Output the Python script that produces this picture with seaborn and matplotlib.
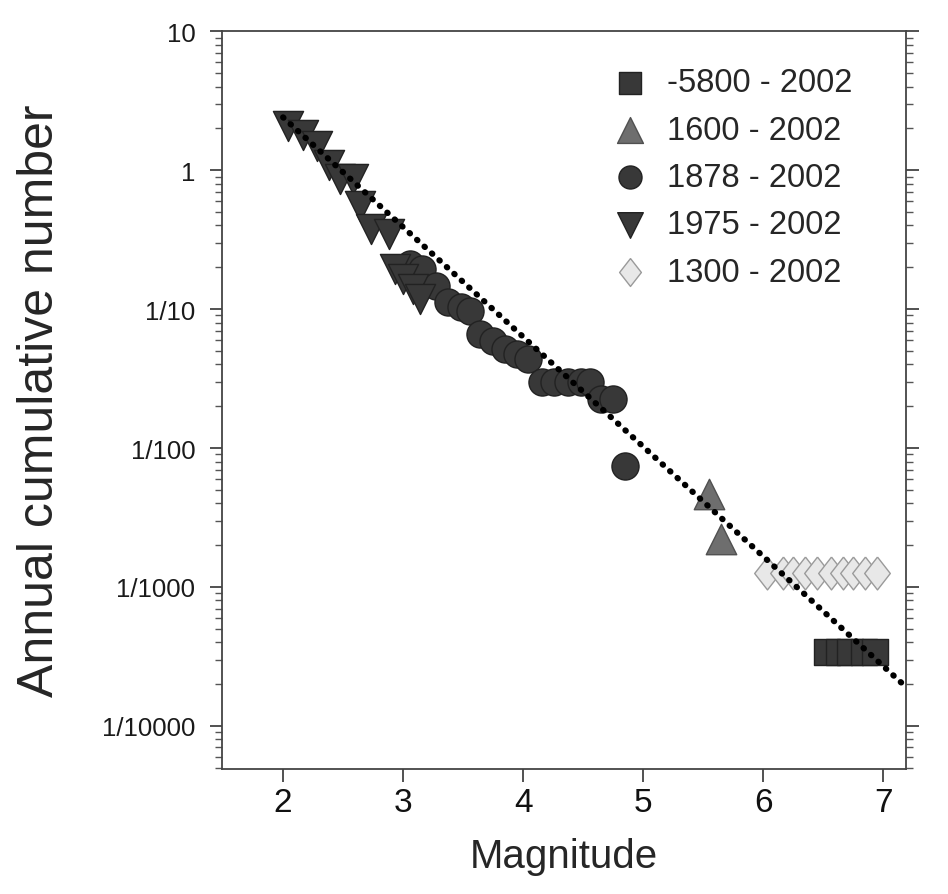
import matplotlib
matplotlib.use("Agg")
import matplotlib.pyplot as plt
import matplotlib.ticker as mticker
import seaborn as sns
import pandas as pd

# values
sq_mag = [6.53, 6.63, 6.72, 6.84, 6.93]
sq_n = [3.4e-4, 3.4e-4, 3.4e-4, 3.4e-4, 3.4e-4]

up_mag = [5.55, 5.65]
up_n = [4.7e-3, 2.2e-3]

circ_mag = [3.06, 3.16, 3.27, 3.37, 3.48, 3.56, 3.64, 3.75, 3.85, 3.95,
            4.04, 4.16, 4.26, 4.37, 4.48, 4.56, 4.65, 4.75, 4.85]
circ_n = [0.211, 0.194, 0.146, 0.112, 0.103, 0.097, 0.066, 0.059, 0.0516, 0.0474,
          0.0437, 0.0298, 0.0298, 0.0298, 0.0298, 0.0298, 0.0225, 0.0225, 0.0074]

down_mag = [2.04, 2.17, 2.28, 2.38, 2.47, 2.58, 2.64, 2.73, 2.88,
            2.93, 3.00, 3.08, 3.14]
down_n = [2.07, 1.79, 1.49, 1.09, 0.86, 0.86, 0.55, 0.377, 0.347,
          0.194, 0.164, 0.139, 0.118]

dia_mag = [6.03, 6.16, 6.25, 6.35, 6.45, 6.56, 6.66, 6.75, 6.85, 6.95]
dia_n = [1.26e-3] * 10

fit_mag = [2.0, 7.19]
fit_n = [2.4, 1.9e-4]

labels = ["-5800 - 2002", "1600 - 2002", "1878 - 2002", "1975 - 2002", "1300 - 2002"]
ytick_vals = [10, 1, 0.1, 0.01, 0.001, 0.0001]
ytick_text = ["10", "1", "1/10", "1/100", "1/1000", "1/10000"]
xtick_vals = [2, 3, 4, 5, 6, 7]

sns.set_style("ticks")
plt.rcParams["font.family"] = ["Liberation Sans", "DejaVu Sans"]

fig = plt.figure(figsize=(9.48, 8.95), dpi=100)
ax = fig.add_axes([0.234, 0.1397, 0.722, 0.8243])

dark = "#383838"
diamond = [(0, 1), (0.78, 0), (0, -1), (-0.78, 0), (0, 1)]

series = [
    (sq_mag, sq_n, "s", 370, dark, "#222222"),
    (up_mag, up_n, "^", 480, "#6e6e6e", "#505050"),
    (circ_mag, circ_n, "o", 380, dark, "#222222"),
    (down_mag, down_n, "v", 470, dark, "#222222"),
    (dia_mag, dia_n, diamond, 560, "#e8e8e8", "#9a9a9a"),
]
for (mx, my, mk, sz, fc, ec), lab in zip(series, labels):
    df = pd.DataFrame({"Magnitude": mx, "N": my})
    sns.scatterplot(data=df, x="Magnitude", y="N", ax=ax, marker=mk, s=sz,
                    color=fc, edgecolor=ec, linewidth=1.0, label=lab, zorder=3)

ax.plot(fit_mag, fit_n, color="black", lw=4.4, linestyle=(0, (0.1, 1.55)),
        dash_capstyle="round", zorder=4)

ax.set_yscale("log")
ax.set_ylim(4.9e-5, 10)
ax.set_xlim(1.49, 7.19)
ax.set_yticks(ytick_vals)
ax.set_yticklabels(ytick_text)
ax.yaxis.set_minor_locator(mticker.LogLocator(base=10, subs=range(2, 10), numticks=20))
ax.yaxis.set_minor_formatter(mticker.NullFormatter())
ax.set_xticks(xtick_vals)
ax.set_xticklabels([str(v) for v in xtick_vals])

ax.tick_params(axis="y", which="major", direction="out", length=9, width=1.2,
               left=True, right=True, labelsize=18.5, colors="#333333",
               labelcolor="#1a1a1a", pad=10)
ax.tick_params(axis="y", which="minor", direction="out", length=5, width=1.0,
               left=True, right=True, colors="#555555")
ax.tick_params(axis="x", which="major", direction="out", length=9, width=1.2,
               bottom=True, top=False, labelsize=24, colors="#333333",
               labelcolor="#111111", pad=4)
for sp in ax.spines.values():
    sp.set_visible(True)
    sp.set_color("#444444")
    sp.set_linewidth(1.3)

ax.set_xlabel("Magnitude", fontsize=29, labelpad=14)
ax.set_ylabel("Annual cumulative number", fontsize=36, labelpad=28)

leg = ax.legend(loc="upper right", bbox_to_anchor=(0.955, 0.982), frameon=False,
                fontsize=23.5, handlelength=0.9, handletextpad=0.7, labelspacing=0.5,
                borderpad=0.2, markerscale=0.85)

fig.savefig("out.png", dpi=100)
